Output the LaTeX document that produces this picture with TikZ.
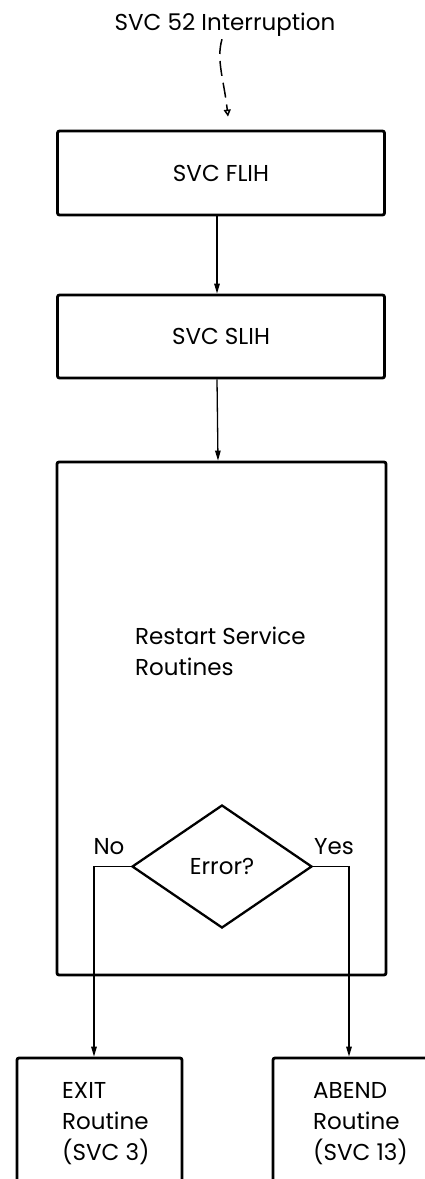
\documentclass[tikz,border=0pt]{standalone}
\usepackage{fontspec}
\setmainfont{Poppins}
\usetikzlibrary{shapes.geometric,arrows.meta,calc}
\tikzset{
  box/.style={draw, line width=2.8pt, rounded corners=2pt, inner sep=0pt},
  arr/.style={line width=1.3pt, -{Triangle[length=10pt,width=5.5pt]}},
  lbl/.style={inner sep=0pt, font=\fontsize{23}{31}\selectfont},
}
\begin{document}
\begin{tikzpicture}[x=1pt,y=-1pt]
\useasboundingbox (0,0) rectangle (425,1179);
\clip (0,0) rectangle (425,1179);
\node[lbl, anchor=base] (title) at (225,30) {SVC 52 Interruption};
\node[box, minimum width=327pt, minimum height=84pt, lbl] (flih) at (221,173) {SVC FLIH};
\node[box, minimum width=327pt, minimum height=83pt, lbl] (slih) at (221,336.5) {SVC SLIH};
\node[box, minimum width=329pt, minimum height=513pt] (main) at (221.5,718.5) {};
\node[lbl, anchor=base west, align=left] (rs) at (135,675) {Restart Service\\Routines};
\node[draw, diamond, line width=2.3pt, minimum width=180pt, minimum height=123pt, inner sep=0pt, lbl] (dia) at (222,866.5) {Error?};
\node[lbl] (no) at (109,847) {No};
\node[lbl] (yes) at (334,847) {Yes};
\node[box, minimum width=165pt, minimum height=150pt] (exit) at (99.5,1133) {};
\node[box, minimum width=159pt, minimum height=150pt] (abend) at (352.5,1133) {};
\node[lbl, anchor=base west, align=left] (exitt) at (62,1160) {EXIT\\Routine\\(SVC 3)};
\node[lbl, anchor=base west, align=left] (abendt) at (313,1160) {ABEND\\Routine\\(SVC 13)};
\draw[line width=1.5pt, dash pattern=on 15pt off 7pt, -{Triangle[open,length=7pt,width=7pt]}]
  ([xshift=-3pt,yshift=-3pt]title.south) .. controls (216,60) and (224,80) .. ([xshift=7pt,yshift=13pt]flih.north);
\draw[arr] ([xshift=-4pt]flih.south) -- ([xshift=-4pt]slih.north);
\draw[arr] ([xshift=-4pt]slih.south) -- ([xshift=-3.5pt]main.north);
\draw[arr] (dia.west) -| ([xshift=-5.5pt]exit.north);
\draw[arr] (dia.east) -| ([xshift=-3.5pt]abend.north);
\end{tikzpicture}
\end{document}
